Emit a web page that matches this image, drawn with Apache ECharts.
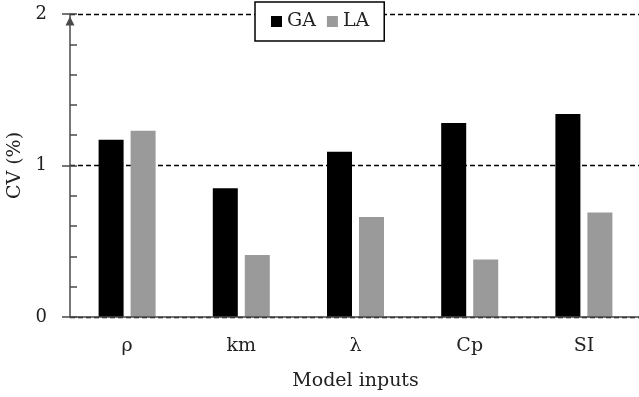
<!DOCTYPE html>
<html>
<head>
<meta charset="utf-8">
<script src="https://cdn.jsdelivr.net/npm/echarts@6/dist/echarts.min.js"></script>
<style>
  html, body { margin: 0; padding: 0; background: #fff; }
  #chart { width: 639px; height: 397px; }
</style>
</head>
<body>
<div id="chart"></div>
<script>
// Model inputs and coefficient of variation (%) for each method
const categories = ['ρ', 'km', 'λ', 'Cp', 'SI'];
const gaValues = [1.17, 0.85, 1.09, 1.28, 1.34];
const laValues = [1.23, 0.41, 0.66, 0.38, 0.69];
const seriesNames = ['GA', 'LA'];
const yTicks = [0, 1, 2];

const FONT = 'DejaVu Serif';
const axisColor = '#4a4a4a';
const textColor = '#222';

const chart = echarts.init(document.getElementById('chart'), null, { renderer: 'canvas' });

chart.setOption({
  animation: false,
  backgroundColor: '#fff',
  textStyle: { fontFamily: FONT },
  grid: {
    left: 70, top: 14, bottom: 80, width: 571,
    containLabel: false,
    outerBoundsMode: 'none'
  },
  legend: {
    data: seriesNames,
    left: 255,
    top: 2,
    orient: 'horizontal',
    icon: 'rect',
    itemWidth: 11,
    itemHeight: 11,
    itemGap: 11,
    backgroundColor: '#fff',
    borderColor: '#000',
    borderWidth: 1.5,
    borderRadius: 0,
    padding: [10, 15, 10, 16],
    textStyle: { fontFamily: FONT, fontSize: 19, color: textColor },
    z: 10
  },
  xAxis: {
    type: 'category',
    data: categories,
    z: 5,
    axisLine: { show: true, lineStyle: { color: axisColor, width: 1.5 } },
    axisTick: { show: false },
    axisLabel: { fontFamily: FONT, fontSize: 19, color: textColor, margin: 20 },
    name: 'Model inputs',
    nameLocation: 'middle',
    nameGap: 55,
    nameTextStyle: { fontFamily: FONT, fontSize: 19, color: textColor }
  },
  yAxis: [
    {
      // axis line with arrow head and inner minor ticks
      type: 'value',
      min: 0,
      max: 2,
      interval: 0.2,
      position: 'left',
      axisLine: {
        show: true,
        lineStyle: { color: axisColor, width: 1.5 },
        symbol: ['none', 'triangle'],
        symbolSize: [9, 9],
        symbolOffset: [0, -7]
      },
      axisTick: { show: true, inside: true, length: 7, lineStyle: { color: axisColor, width: 1.5 } },
      axisLabel: { show: false },
      splitLine: { show: false }
    },
    {
      // labelled ticks at 0, 1, 2 with dashed reference lines
      type: 'value',
      min: yTicks[0],
      max: yTicks[yTicks.length - 1],
      interval: 1,
      position: 'left',
      axisLine: { show: false },
      axisTick: { show: true, inside: false, length: 8, lineStyle: { color: axisColor, width: 1.5 } },
      axisLabel: { show: true, fontFamily: FONT, fontSize: 18, color: textColor, margin: 23 },
      splitLine: { show: true, lineStyle: { color: '#000', width: 1.3, type: [5, 3] } },
      name: 'CV (%)',
      nameLocation: 'middle',
      nameGap: 44,
      nameTextStyle: { fontFamily: FONT, fontSize: 19, color: textColor }
    }
  ],
  series: [
    {
      name: seriesNames[0],
      type: 'bar',
      yAxisIndex: 0,
      data: gaValues,
      barWidth: 25,
      barGap: '28%',
      itemStyle: { color: '#000' }
    },
    {
      name: seriesNames[1],
      type: 'bar',
      yAxisIndex: 0,
      data: laValues,
      barWidth: 25,
      barGap: '28%',
      itemStyle: { color: '#9a9a9a' }
    }
  ]
});
</script>
</body>
</html>
